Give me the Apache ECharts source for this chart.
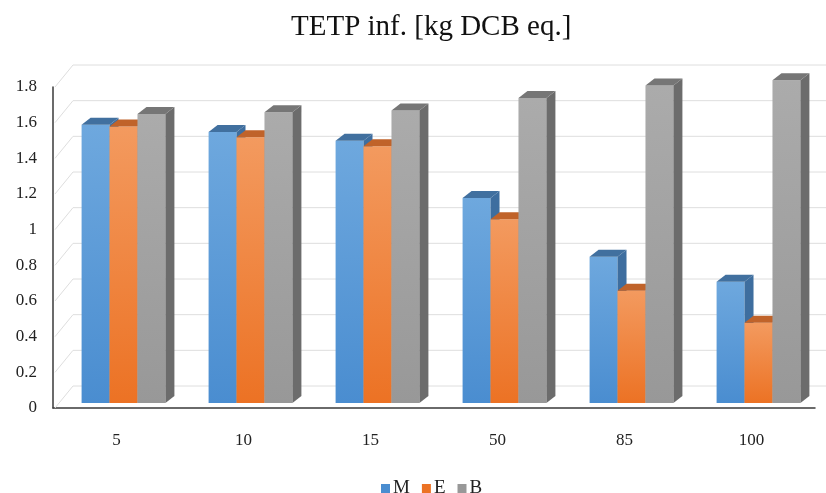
<!DOCTYPE html>
<html>
<head>
<meta charset="utf-8">
<script src="https://cdn.jsdelivr.net/npm/echarts@6/dist/echarts.min.js"></script>
<style>
  html, body { margin: 0; padding: 0; background: #fff; }
  #chart { width: 826px; height: 493px; }
</style>
</head>
<body>
<div id="chart"></div>
<script>
// data
const categories = ["5", "10", "15", "50", "85", "100"];
const valuesM = [1.56, 1.52, 1.47, 1.15, 0.82, 0.68];
const valuesE = [1.55, 1.49, 1.44, 1.03, 0.63, 0.45];
const valuesB = [1.62, 1.63, 1.64, 1.71, 1.78, 1.81];
const yTicks = [0, 0.2, 0.4, 0.6, 0.8, 1, 1.2, 1.4, 1.6, 1.8];

// face colours for the fake 3d bars: front top, front bottom, side, top
const faces = [
  { hi: "#6ea8de", lo: "#4a8dd0", side: "#3e6e9f", top: "#41709f" },
  { hi: "#f39a5f", lo: "#ec7224", side: "#b8622c", top: "#c0632a" },
  { hi: "#ababab", lo: "#989898", side: "#6c6c6c", top: "#767676" }
];

const DX = 9, DY = 7; // bar depth
const WALL_DX = 20, WALL_DY = 22; // back wall offset

function renderBar(params, api) {
  const si = params.seriesIndex - 1;
  const idx = api.value(0);
  const v = api.value(1);
  const top = api.coord([idx, v]);
  const base = api.coord([idx, 0]);
  const band = api.size([1, 0])[0];
  const bw = band * 0.22;
  const x0 = top[0] - 1.5 * bw + si * bw + 7;
  const yT = top[1] - 5;
  const yB = base[1] - 5;
  const f = faces[si];
  return {
    type: "group",
    children: [
      {
        type: "rect",
        shape: { x: x0, y: yT, width: bw, height: yB - yT },
        style: {
          fill: new echarts.graphic.LinearGradient(0, 0, 0, 1, [
            { offset: 0, color: f.hi },
            { offset: 1, color: f.lo }
          ])
        }
      },
      {
        type: "polygon",
        shape: { points: [[x0 + bw, yT], [x0 + bw + DX, yT - DY], [x0 + bw + DX, yB - DY], [x0 + bw, yB]] },
        style: { fill: f.side }
      },
      {
        type: "polygon",
        shape: { points: [[x0, yT], [x0 + DX, yT - DY], [x0 + bw + DX, yT - DY], [x0 + bw, yT]] },
        style: { fill: f.top }
      }
    ]
  };
}

function renderWall(params, api) {
  const v = api.value(1);
  const p = api.coord([0, v]);
  const band = api.size([1, 0])[0];
  const left = p[0] - band / 2;
  const right = left + band * categories.length;
  return {
    type: "polyline",
    shape: { points: [[left + 2, p[1]], [left + WALL_DX, p[1] - WALL_DY], [right + WALL_DX, p[1] - WALL_DY]] },
    style: { stroke: "#dedede", lineWidth: 1, fill: null }
  };
}

function barSeries(name, vals, i) {
  return {
    name: name,
    type: "custom",
    renderItem: renderBar,
    itemStyle: { color: faces[i].lo },
    encode: { x: 0, y: 1 },
    data: vals.map((v, k) => [k, v]),
    z: 3
  };
}

const chart = echarts.init(document.getElementById("chart"));
chart.setOption({
  animation: false,
  backgroundColor: "#fff",
  title: {
    text: "TETP inf. [kg DCB eq.]",
    left: 286,
    top: 8,
    textStyle: { fontFamily: "Liberation Serif", fontSize: 29, fontWeight: "normal", color: "#111" }
  },
  legend: {
    data: ["M", "E", "B"],
    top: 474,
    left: 376,
    icon: "rect",
    itemWidth: 9,
    itemHeight: 9,
    itemGap: 12,
    textStyle: { fontFamily: "Liberation Serif", fontSize: 19, color: "#222", padding: [0, 0, 0, -2] }
  },
  grid: { left: 53, right: 11, top: 87, bottom: 85 },
  xAxis: {
    type: "category",
    data: categories,
    axisLine: { lineStyle: { color: "#3a3a3a", width: 1.5 } },
    axisTick: { show: false },
    axisLabel: { margin: 24, fontFamily: "Liberation Serif", fontSize: 17, color: "#222" }
  },
  yAxis: {
    type: "value",
    min: 0,
    max: 1.8,
    interval: 0.2,
    axisLine: { show: true, lineStyle: { color: "#3a3a3a", width: 1.5 } },
    axisTick: { show: false },
    splitLine: { show: false },
    axisLabel: { margin: 16, fontFamily: "Liberation Serif", fontSize: 17, color: "#222" }
  },
  series: [
    {
      name: "wall",
      type: "custom",
      renderItem: renderWall,
      encode: { x: 0, y: 1 },
      data: yTicks.map(t => [0, t]),
      silent: true,
      z: 1
    },
    barSeries("M", valuesM, 0),
    barSeries("E", valuesE, 1),
    barSeries("B", valuesB, 2)
  ]
});
</script>
</body>
</html>
